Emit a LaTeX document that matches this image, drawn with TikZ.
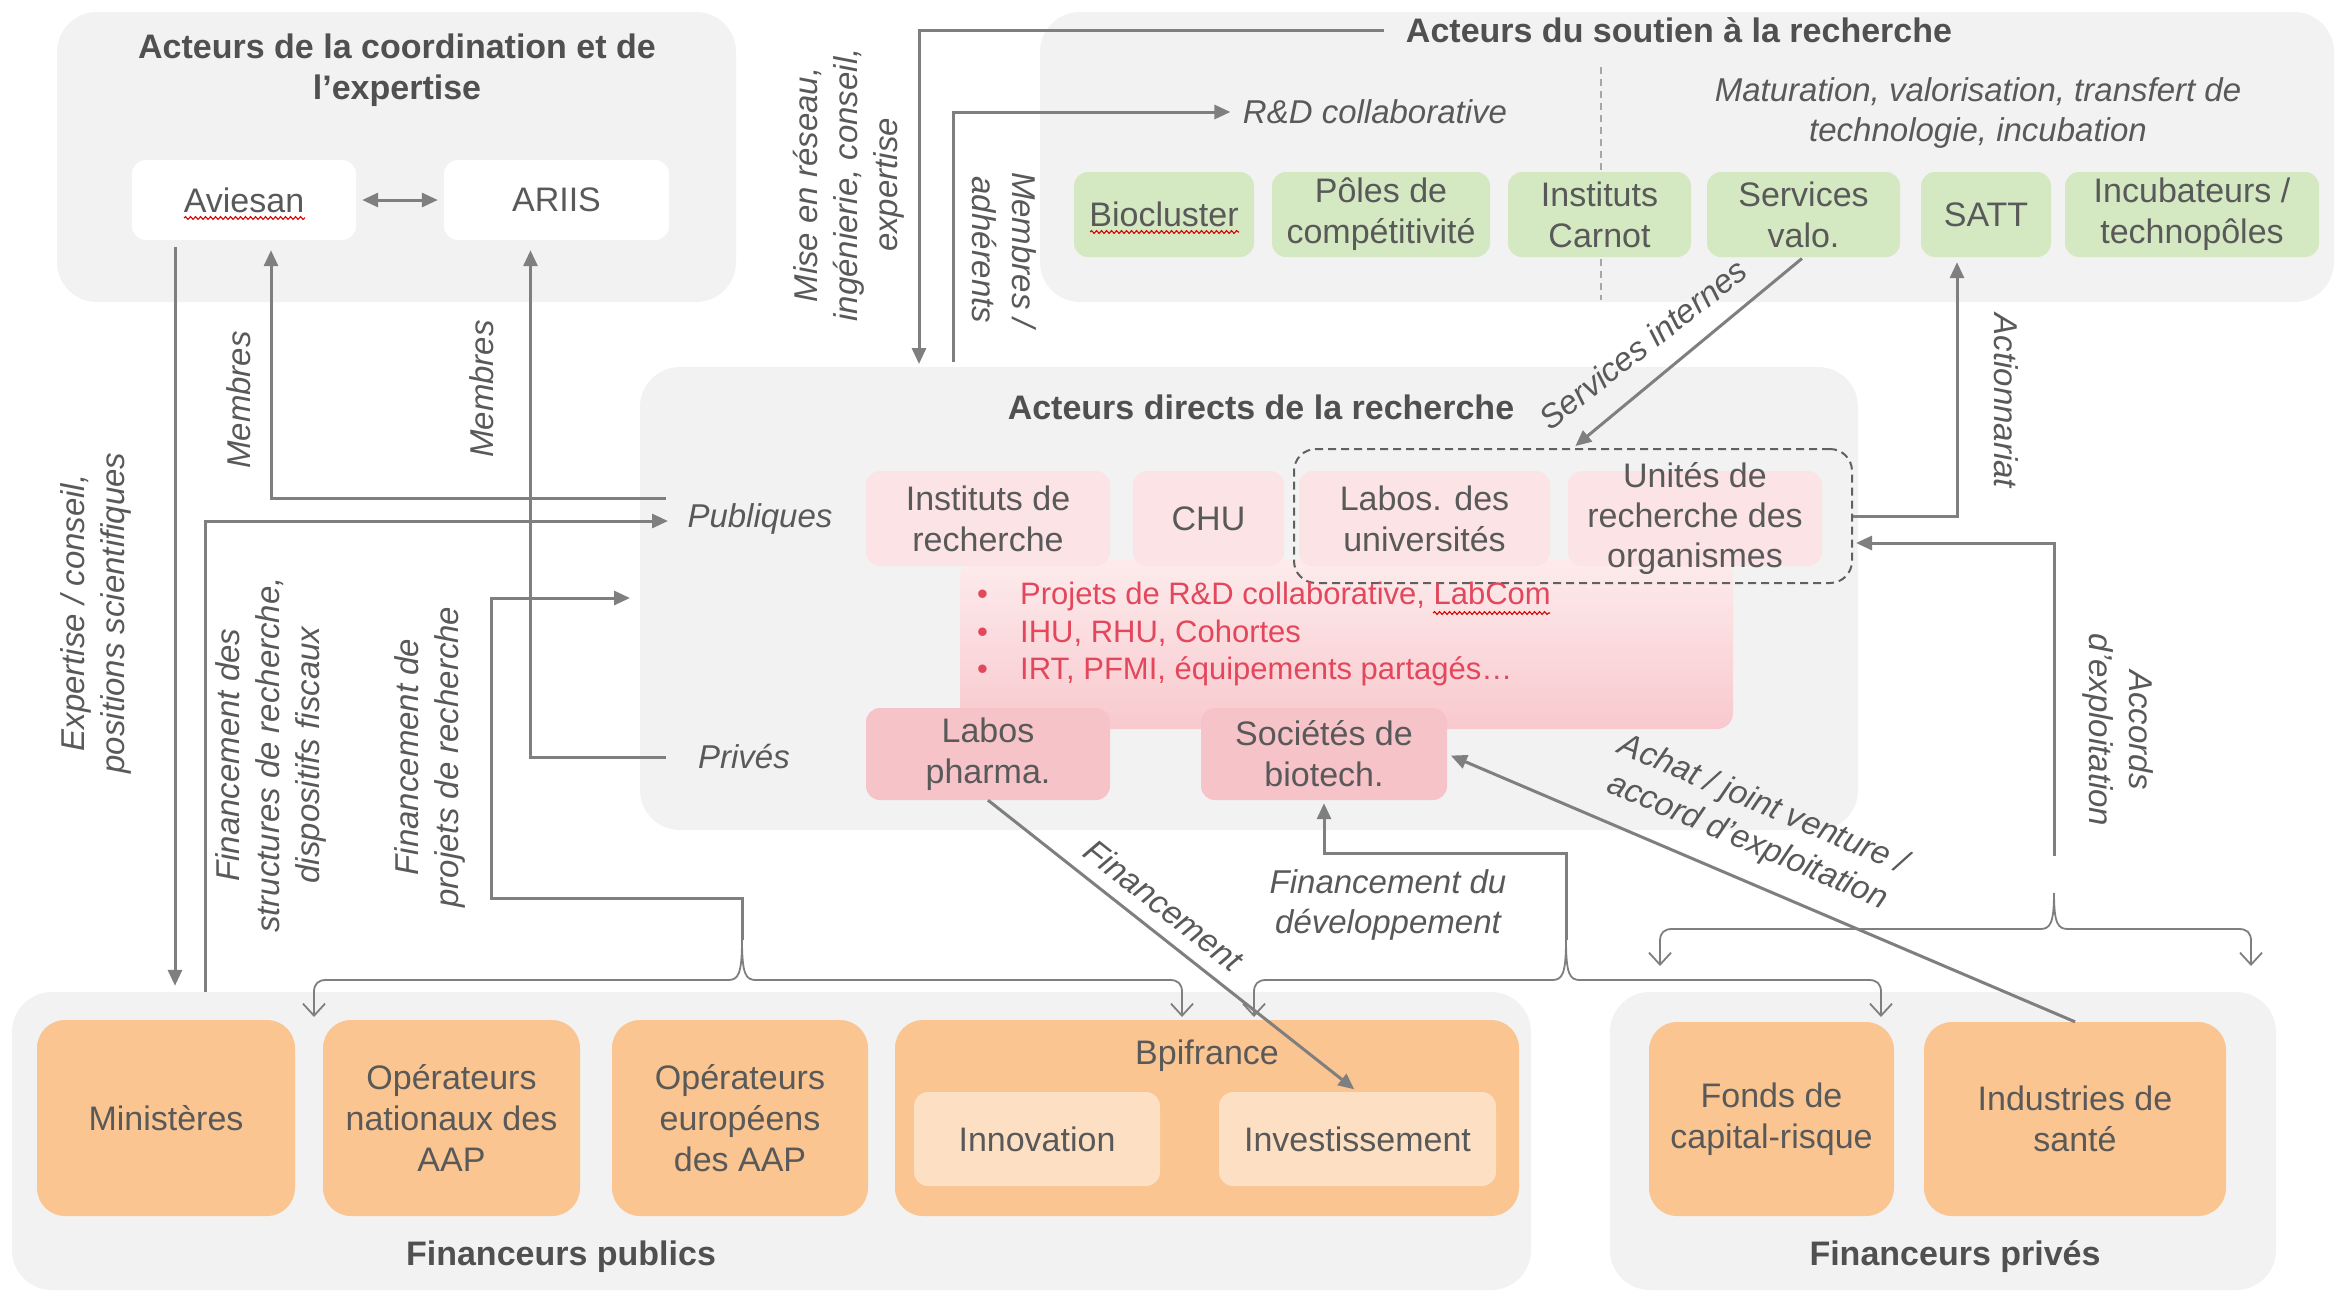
\documentclass[tikz,border=0pt]{standalone}
\usepackage{fontspec}
\setmainfont{Liberation Sans}
\usetikzlibrary{arrows.meta,decorations.pathmorphing}
\definecolor{panel}{HTML}{F2F2F2}
\definecolor{txt}{HTML}{595959}
\definecolor{ttlc}{HTML}{505050}
\definecolor{grn}{HTML}{D4E8C2}
\definecolor{pkA}{HTML}{FCE3E5}
\definecolor{pkT}{HTML}{FDEBEC}
\definecolor{pkB}{HTML}{F8C9CE}
\definecolor{pkC}{HTML}{F6C3C8}
\definecolor{org}{HTML}{FAC590}
\definecolor{orgL}{HTML}{FDDFC3}
\definecolor{redt}{HTML}{E2475C}
\definecolor{cn}{HTML}{7F7F7F}
\definecolor{dsh}{HTML}{606060}
\begin{document}
\begin{tikzpicture}[x=1pt,y=-1pt,
  every node/.style={text=txt,font=\fontsize{34}{41}\selectfont},
  pnl/.style={fill=panel,rounded corners=40pt,inner sep=0pt},
  bx/.style={rounded corners=14pt,inner sep=0pt,align=center},
  ob/.style={bx,fill=org,rounded corners=28pt,minimum height=196pt},
  ttl/.style={text=ttlc,font=\bfseries\fontsize{34}{41}\selectfont,align=center},
  lbl/.style={font=\itshape\fontsize{33}{40}\selectfont,align=center},
  conn/.style={draw=cn,line width=3pt,-{Triangle[length=16pt,width=14pt]}},
  brc/.style={draw=cn,line width=1.8pt,{Straight Barb[length=12pt,width=22pt]}-{Straight Barb[length=12pt,width=22pt]}},
  squig/.style={draw=red!85!black,line width=1.1pt,decorate,decoration={snake,amplitude=1.4pt,segment length=5pt}}
]
\fill[white] (0,0) rectangle (2346,1294);
\useasboundingbox (0,0) rectangle (2346,1294);

% panels
\node[pnl,minimum width=679,minimum height=290] (P1) at (396.5,157) {};
\node[pnl,minimum width=1294,minimum height=290] (P2) at (1687,157) {};
\node[pnl,minimum width=1218,minimum height=463] (P3) at (1249,598.5) {};
\node[pnl,minimum width=1519,minimum height=298] (P4) at (771.5,1141) {};
\node[pnl,minimum width=666,minimum height=298] (P5) at (1943,1141) {};

\node[ttl] (P1t) at (397,70) {Acteurs de la coordination et de\\l’expertise};
\node[ttl] (P2t) at (1679,30) {Acteurs du soutien à la recherche};
\node[ttl] (P3t) at (1261,407) {Acteurs directs de la recherche};
\node[ttl] (P4t) at (561,1257) {Financeurs publics};
\node[ttl] (P5t) at (1955,1257) {Financeurs privés};

% coordination
\node[bx,fill=white,minimum width=224,minimum height=80] (aviesan) at (244,200) {Aviesan};
\node[bx,fill=white,minimum width=225,minimum height=80] (ariis) at (556.5,200) {ARIIS};

% soutien
\draw[draw=black!35,line width=1.3pt,dash pattern=on 7pt off 5pt] (1601,67) -- (1601,300);
\node[lbl] (rd) at (1375,112) {R\&D collaborative};
\node[lbl] (mat) at (1978,113) {Maturation, valorisation, transfert de\\technologie, incubation};
\node[bx,fill=grn,minimum width=180,minimum height=85] (bioc) at (1164,214.5) {Biocluster};
\node[bx,fill=grn,minimum width=218,minimum height=85] (poles) at (1381,214.5) {Pôles de\\compétitivité};
\node[bx,fill=grn,minimum width=183,minimum height=85] (carnot) at (1599.5,214.5) {Instituts\\Carnot};
\node[bx,fill=grn,minimum width=193,minimum height=85] (servalo) at (1803.5,214.5) {Services\\valo.};
\node[bx,fill=grn,minimum width=130,minimum height=85] (satt) at (1986,214.5) {SATT};
\node[bx,fill=grn,minimum width=254,minimum height=85] (incub) at (2192,214.5) {Incubateurs /\\technopôles};

% directs
\shade[top color=pkT,bottom color=pkB,rounded corners=16pt] (960,560) rectangle (1733,729);
\node[bx,fill=pkA,minimum width=244,minimum height=95] (inst) at (988,518.5) {Instituts de\\recherche};
\node[bx,fill=pkA,minimum width=151,minimum height=95] (chu) at (1208.5,518.5) {CHU};
\node[bx,fill=pkA,minimum width=251,minimum height=95] (labu) at (1424.5,518.5) {Labos. des\\universités};
\node[bx,fill=pkA,minimum width=254,minimum height=95] (unit) at (1695,518.5) {};
\node[align=center,inner sep=0pt,font=\fontsize{34}{40}\selectfont] (unitT) at (1695,518.5) {Unités de\\recherche des\\organismes};
\node[draw=dsh,line width=2pt,dash pattern=on 8pt off 5pt,rounded corners=22pt,minimum width=558,minimum height=134,inner sep=0pt] (dbox) at (1573,516) {};
\node[anchor=west,inner sep=0pt,text=redt,font=\fontsize{31}{37.5}\selectfont,align=left] (bul) at (977,634)
  {\makebox[43pt][l]{•}Projets de R\&D collaborative, LabCom\\\makebox[43pt][l]{•}IHU, RHU, Cohortes\\\makebox[43pt][l]{•}IRT, PFMI, équipements partagés…};
\node[bx,fill=pkC,minimum width=244,minimum height=92] (pharma) at (988,754) {Labos\\pharma.};
\node[bx,fill=pkC,minimum width=246,minimum height=92] (biotech) at (1324,754) {Sociétés de\\biotech.};
\node[lbl] (pub) at (760,519) {Publiques};
\node[lbl] (priv) at (744,756) {Privés};

% financeurs
\node[ob,minimum width=258] (mini) at (166,1118) {Ministères};
\node[ob,minimum width=257] (opn) at (451.5,1118) {Opérateurs\\nationaux des\\AAP};
\node[ob,minimum width=256] (ope) at (740,1118) {Opérateurs\\européens\\des AAP};
\node[ob,minimum width=624] (bpi) at (1207,1118) {};
\node (bpiT) at (1207,1056) {Bpifrance};
\node[bx,fill=orgL,minimum width=246,minimum height=94] (innov) at (1037,1139) {Innovation};
\node[bx,fill=orgL,minimum width=277,minimum height=94] (invest) at (1357.5,1139) {Investissement};
\node[ob,minimum width=245,minimum height=194] (fonds) at (1771.5,1119) {Fonds de\\capital-risque};
\node[ob,minimum width=302,minimum height=194] (indus) at (2075,1119) {Industries de\\santé};

% squiggles
\draw[squig] (184,218) -- (305,218);
\draw[squig] (1090,232) -- (1239,232);
\draw[squig] (1433,613) -- (1550,613);

% braces
\draw[brc] (314,1017) -- (314,992) .. controls (314,984) and (318,980) .. (326,980) -- (728,980) .. controls (738,980) and (742,975) .. (742,940) .. controls (742,975) and (746,980) .. (756,980) -- (1170,980) .. controls (1178,980) and (1182,984) .. (1182,992) -- (1182,1017);
\draw[brc] (1254,1017) -- (1254,992) .. controls (1254,984) and (1258,980) .. (1266,980) -- (1552,980) .. controls (1562,980) and (1566,975) .. (1566,940) .. controls (1566,975) and (1570,980) .. (1580,980) -- (1869,980) .. controls (1877,980) and (1881,984) .. (1881,992) -- (1881,1017);
\draw[brc] (1660,966) -- (1660,941) .. controls (1660,933) and (1664,929) .. (1672,929) -- (2040,929) .. controls (2050,929) and (2054,924) .. (2054,893) .. controls (2054,924) and (2058,929) .. (2068,929) -- (2239,929) .. controls (2247,929) and (2251,933) .. (2251,941) -- (2251,966);
\coordinate (bP) at (742,940);
\coordinate (bM) at (1566,940);

% connectors
\draw[conn,{Triangle[length=16pt,width=14pt]}-{Triangle[length=16pt,width=14pt]},shorten <=6pt,shorten >=6pt] (aviesan) -- (ariis);
\coordinate (mA) at (919,364);
\draw[conn,shorten <=18pt] (P2t.west) -| (mA);
\coordinate (mB) at (953,362);
\draw[conn,shorten >=9pt] (mB) |- (rd.west);
\draw[conn,shorten <=2pt,shorten >=3pt] (servalo.south) -- (dbox.north);
\draw[conn,shorten >=5pt] (dbox.east) -| ([xshift=-29pt]satt.south);
\coordinate (acc) at (2054,856);
\draw[conn,shorten >=3pt] (acc) |- ([yshift=-27pt]dbox.east);
\coordinate (pA) at (666,498);
\draw[conn,shorten >=10pt] (pA) -| ([xshift=27pt]aviesan.south);
\coordinate (pB) at (666,757);
\draw[conn,shorten >=10pt] (pB) -| ([xshift=-26pt]ariis.south);
\coordinate (xAv) at ([xshift=-69pt]aviesan.south);
\draw[conn,shorten <=7pt,shorten >=6pt] (xAv) -- (xAv |- P4.north);
\coordinate (xMi) at ([xshift=39pt]mini.north);
\coordinate (pC) at (668,521);
\draw[conn] (xMi |- P4.north) |- (pC);
\coordinate (fpE) at (630,598);
\draw[conn] (bP) -- ++(0,-42) -| ++(-251,-300) -- (fpE);
\draw[conn,shorten >=3pt] (bM) -- ++(0,-87) -| (biotech.south);
\draw[conn,shorten >=4pt] (pharma.south) -- (invest.north);
\draw[conn,shorten >=4pt] (indus.north) -- (biotech.east);

% labels
\node[lbl,rotate=90] (lMise) at (849,185) {Mise en réseau,\\ingénierie, conseil,\\expertise};
\node[lbl,rotate=-90] (lMemb) at (1004,250) {Membres /\\adhérents};
\node[lbl,rotate=38] (lServ) at (1643,344) {Services internes};
\node[lbl,rotate=-90] (lAct) at (2006,401) {Actionnariat};
\node[lbl,rotate=-90] (lAcc) at (2118,730) {Accords\\d’exploitation};
\node[lbl,rotate=90] (lExp) at (96,613) {Expertise / conseil,\\positions scientifiques};
\node[lbl,rotate=90] (lM1) at (239,400) {Membres};
\node[lbl,rotate=90] (lM2) at (482,389) {Membres};
\node[lbl,rotate=90] (lFs) at (271,755) {Financement des\\structures de recherche,\\dispositifs fiscaux};
\node[lbl,rotate=90] (lFp) at (430,757) {Financement de\\projets de recherche};
\node[lbl] (lFd) at (1388,905) {Financement du\\développement};
\node[lbl,rotate=-38.4] (lF) at (1164,905) {Financement};
\node[lbl,rotate=-23.1] (lAch) at (1755,824) {Achat / joint venture /\\accord d’exploitation};
\end{tikzpicture}
\end{document}
